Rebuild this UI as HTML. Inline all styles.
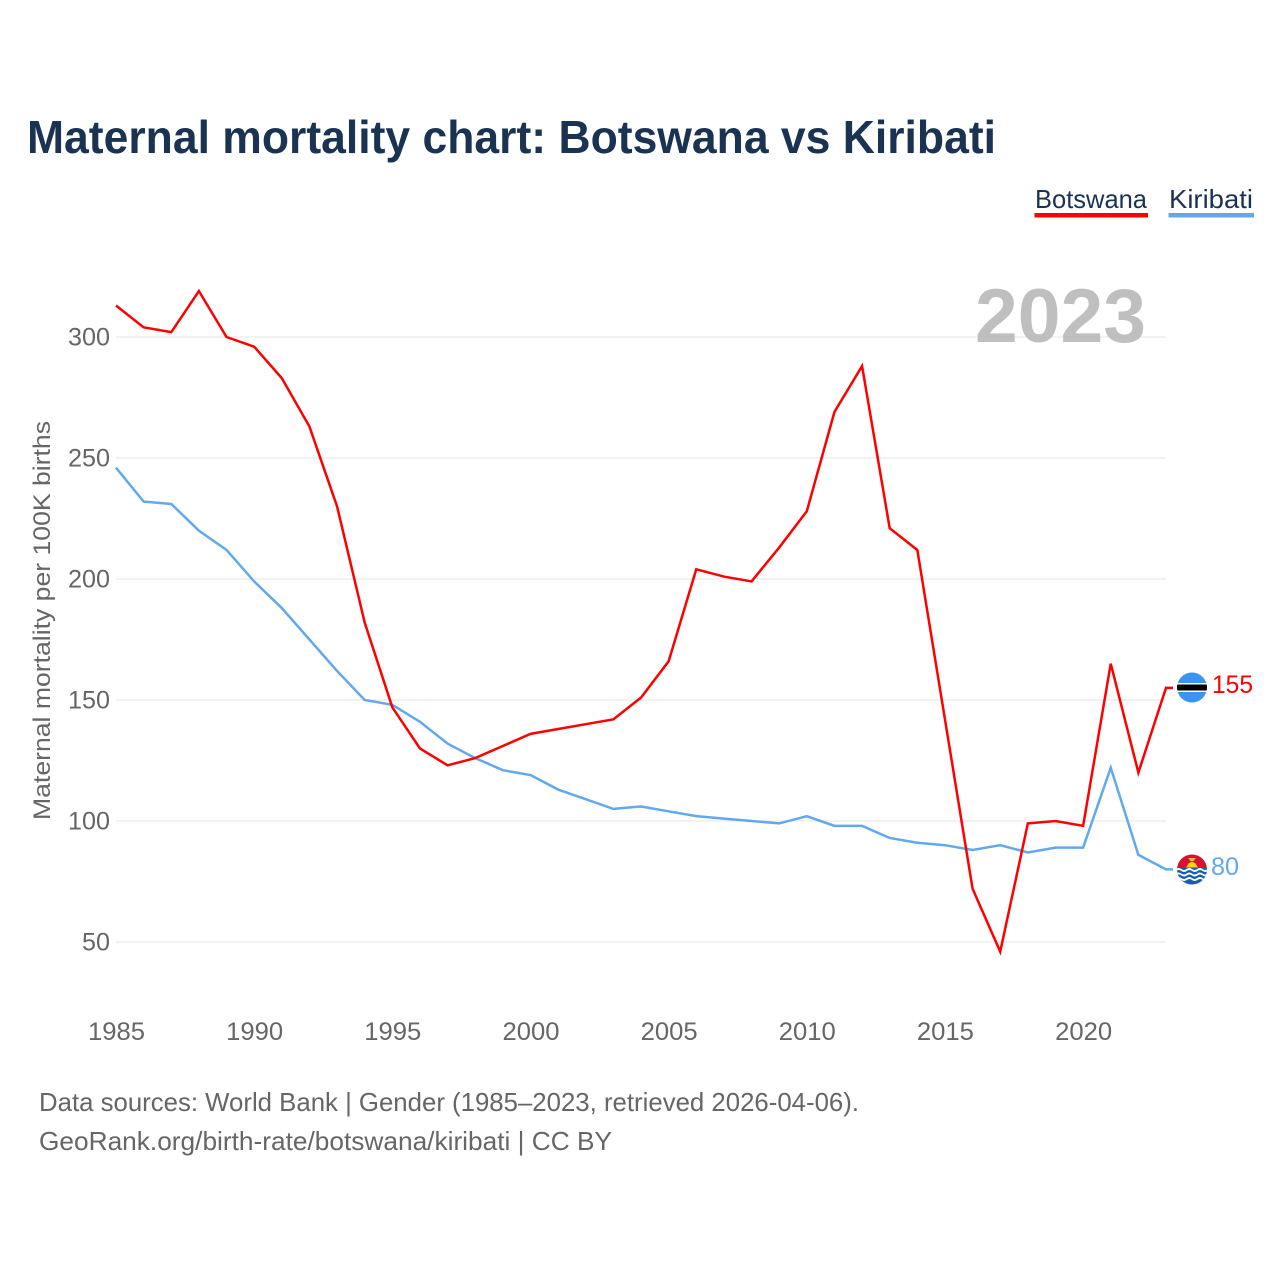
<!DOCTYPE html>
<html lang="en">
<head>
<meta charset="utf-8">
<title>Maternal mortality chart: Botswana vs Kiribati</title>
<style>
html,body{margin:0;padding:0;background:#fff;}
svg{display:block;font-family:"Liberation Sans",sans-serif;}
</style>
</head>
<body>
<svg id="chart" width="1280" height="1280" viewBox="0 0 1280 1280" xmlns="http://www.w3.org/2000/svg">
  <defs>
    <clipPath id="flag-clip-bw"><circle cx="1192" cy="687.5" r="15"/></clipPath>
    <clipPath id="flag-clip-ki"><circle cx="1192" cy="869.5" r="15"/></clipPath>
  </defs>
  <rect x="0" y="0" width="1280" height="1280" fill="#ffffff"/>
  <text x="27" y="153" font-size="46" font-weight="700" fill="#1a3353" textLength="969" lengthAdjust="spacingAndGlyphs">Maternal mortality chart: Botswana vs Kiribati</text>

  <g>
    <g>
      <text x="1035" y="208" font-size="26" fill="#1a3353" textLength="112" lengthAdjust="spacingAndGlyphs">Botswana</text>
      <rect x="1034.5" y="213" width="113.5" height="4.5" fill="#ff0000"/>
    </g>
    <g>
      <text x="1169" y="208" font-size="26" fill="#1a3353" textLength="84" lengthAdjust="spacingAndGlyphs">Kiribati</text>
      <rect x="1168.5" y="213" width="85.5" height="4.5" fill="#62a8ee"/>
    </g>
  </g>

  <g id="grid"></g>
  <g id="y-ticks"></g>
  <g id="x-ticks"></g>
  <text transform="translate(50,620.5) rotate(-90)" text-anchor="middle" font-size="24" fill="#666666" textLength="399" lengthAdjust="spacingAndGlyphs">Maternal mortality per 100K births</text>

  <path id="line-kiribati" fill="none" stroke="#62a8ee" stroke-width="2.5" stroke-linejoin="miter"/>
  <path id="line-botswana" fill="none" stroke="#ff0000" stroke-width="2.5" stroke-linejoin="miter"/>

  <text x="975" y="342" font-size="76" font-weight="700" fill="#b4b4b4" fill-opacity="0.85" textLength="171" lengthAdjust="spacingAndGlyphs">2023</text>

  <g clip-path="url(#flag-clip-bw)">
    <rect x="1176" y="672" width="32" height="31" fill="#3d94f0"/>
    <rect x="1176" y="683" width="32" height="9" fill="#ffffff"/>
    <rect x="1176" y="684.5" width="32" height="6" fill="#000000"/>
  </g>
  <g clip-path="url(#flag-clip-ki)">
    <rect x="1176" y="854" width="32" height="16" fill="#d8112f"/>
    <rect x="1176" y="868" width="32" height="17" fill="#1a5cb0"/>
    <path d="M1176 869 q2.7 -2 5.3 0 t5.3 0 t5.3 0 t5.3 0 t5.3 0 t5.3 0 L1208 871 q-2.7 2 -5.3 0 t-5.3 0 t-5.3 0 t-5.3 0 t-5.3 0 t-5.3 0 Z" fill="#ffffff"/>
    <path d="M1176 873.5 q2.7 -2 5.3 0 t5.3 0 t5.3 0 t5.3 0 t5.3 0 t5.3 0 L1208 875.5 q-2.7 2 -5.3 0 t-5.3 0 t-5.3 0 t-5.3 0 t-5.3 0 t-5.3 0 Z" fill="#ffffff"/>
    <path d="M1176 878 q2.7 -2 5.3 0 t5.3 0 t5.3 0 t5.3 0 t5.3 0 t5.3 0 L1208 880 q-2.7 2 -5.3 0 t-5.3 0 t-5.3 0 t-5.3 0 t-5.3 0 t-5.3 0 Z" fill="#ffffff"/>
    <path d="M1186 867.5 L1198 867.5 L1195.5 863.5 L1192 861.5 L1188.5 863.5 Z" fill="#fcd116"/>
    <path d="M1188 858 L1196 858 L1193.5 861 L1190.5 861 Z" fill="#f5b942"/>
  </g>

  <text id="end-label-botswana" x="1212" y="693" font-size="25" fill="#ff0000" textLength="41" lengthAdjust="spacingAndGlyphs"></text>
  <text id="end-label-kiribati" x="1211" y="875" font-size="25" fill="#62a8ee" textLength="28" lengthAdjust="spacingAndGlyphs"></text>

  <text x="39" y="1111" font-size="26" fill="#666666" textLength="820" lengthAdjust="spacingAndGlyphs">Data sources: World Bank | Gender (1985–2023, retrieved 2026-04-06).</text>
  <text x="39" y="1150" font-size="26" fill="#666666" textLength="573" lengthAdjust="spacingAndGlyphs">GeoRank.org/birth-rate/botswana/kiribati | CC BY</text>
</svg>
<script>
const years = [1985,1986,1987,1988,1989,1990,1991,1992,1993,1994,1995,1996,1997,1998,1999,2000,2001,2002,2003,2004,2005,2006,2007,2008,2009,2010,2011,2012,2013,2014,2015,2016,2017,2018,2019,2020,2021,2022,2023];
const botswana = [313,304,302,319,300,296,283,263,230,182,147,130,123,126,131,136,138,140,142,151,166,204,201,199,213,228,269,288,221,212,142,72,46,99,100,98,165,120,155];
const kiribati = [246,232,231,220,212,199,188,175,162,150,148,141,132,126,121,119,113,109,105,106,104,102,101,100,99,102,98,98,93,91,90,88,90,87,89,89,122,86,80];
const yTickValues = [50,100,150,200,250,300];
const xTickValues = [1985,1990,1995,2000,2005,2010,2015,2020];

const NS = 'http://www.w3.org/2000/svg';
function xScale(year) { return 116 + (year - 1985) * (1050 / 38); }
function yScale(value) { return 942 - (value - 50) * (605 / 250); }

function linePath(values) {
  let d = '';
  values.forEach(function (v, i) {
    d += (i === 0 ? 'M' : 'L') + xScale(years[i]).toFixed(2) + ' ' + yScale(v).toFixed(2) + ' ';
  });
  d += 'L' + (xScale(years[years.length - 1]) + 7).toFixed(2) + ' ' + yScale(values[values.length - 1]).toFixed(2);
  return d;
}

document.getElementById('line-botswana').setAttribute('d', linePath(botswana));
document.getElementById('line-kiribati').setAttribute('d', linePath(kiribati));
document.getElementById('end-label-botswana').textContent = botswana[botswana.length - 1];
document.getElementById('end-label-kiribati').textContent = kiribati[kiribati.length - 1];

const grid = document.getElementById('grid');
const yTicks = document.getElementById('y-ticks');
yTickValues.forEach(function (v) {
  const line = document.createElementNS(NS, 'line');
  
  
  line.setAttribute('x1', 116);
  line.setAttribute('x2', 1166);
  line.setAttribute('y1', yScale(v));
  line.setAttribute('y2', yScale(v));
  line.setAttribute('stroke', '#e6e6e6');
  line.setAttribute('stroke-width', '1');
  line.setAttribute('shape-rendering', 'crispEdges');
  grid.appendChild(line);
  const label = document.createElementNS(NS, 'text');
  
  
  label.setAttribute('x', 110);
  label.setAttribute('y', yScale(v) + 8.5);
  label.setAttribute('text-anchor', 'end');
  label.setAttribute('font-size', '25');
  label.setAttribute('fill', '#666666');
  label.setAttribute('textLength', String(v).length * 14);
  label.setAttribute('lengthAdjust', 'spacingAndGlyphs');
  label.textContent = v;
  yTicks.appendChild(label);
});

const xTicks = document.getElementById('x-ticks');
xTickValues.forEach(function (y) {
  const label = document.createElementNS(NS, 'text');
  
  
  label.setAttribute('x', xScale(y) + 0.5);
  label.setAttribute('y', 1040);
  label.setAttribute('text-anchor', 'middle');
  label.setAttribute('font-size', '25');
  label.setAttribute('fill', '#666666');
  label.setAttribute('textLength', '57');
  label.setAttribute('lengthAdjust', 'spacingAndGlyphs');
  label.textContent = y;
  xTicks.appendChild(label);
});
</script>
</body>
</html>
